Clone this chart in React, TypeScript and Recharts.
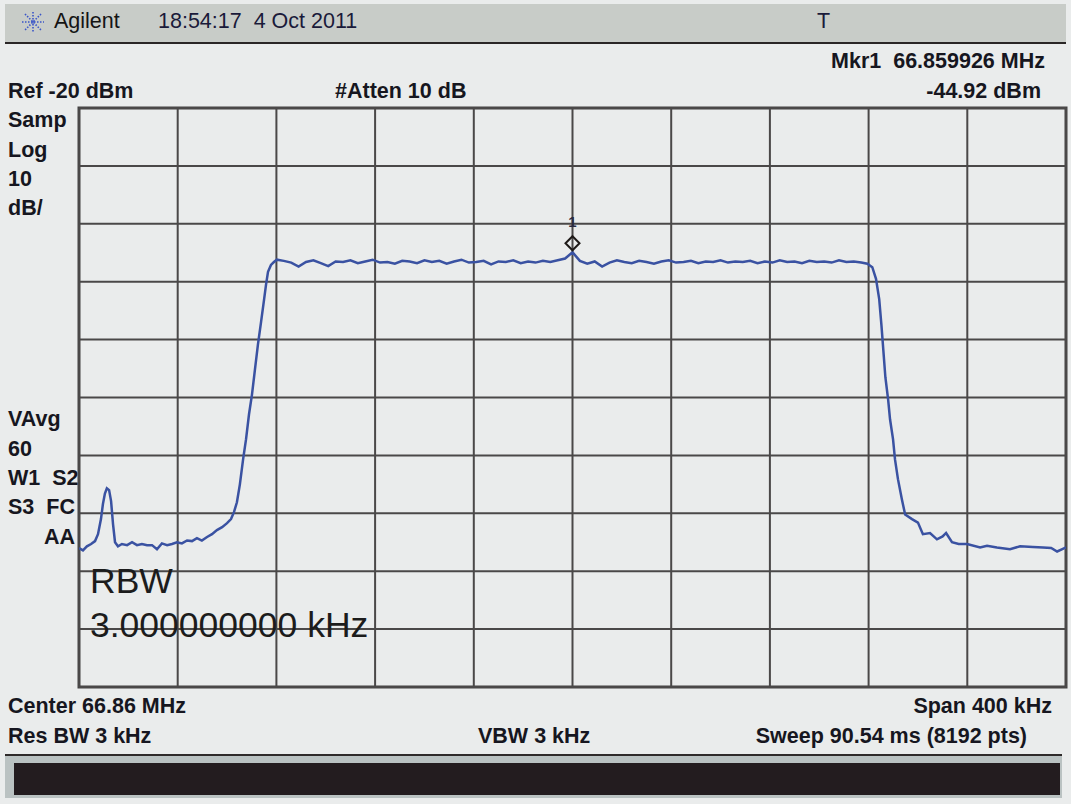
import React from "react";
import { ComposedChart, Line, Scatter, XAxis, YAxis, ReferenceLine, ReferenceArea } from "recharts";

// frequency offset from centre (kHz) and trace level (dBm)
const freqOffsetKHz = [
  -200, -198.4, -196.8, -195.1, -193.5, -192.3, -191.1, -190.3, -189.5, -188.7,
  -187.8, -187.0, -186.2, -185.4, -184.2, -182.6, -180.5, -178.5, -176.5, -174.5,
  -172.4, -170.4, -168.4, -166.4, -164.3, -162.3, -160.3, -158.3, -156.2, -154.2,
  -152.2, -150.2, -148.1, -146.1, -144.1, -142.0, -140.0, -138.4, -137.2, -136.0,
  -134.8, -133.5, -132.3, -131.1, -129.9, -128.7, -127.5, -126.2, -125.0, -124.2,
  -123.4, -122.2, -121.0, -119.8,
  -117, -114, -111, -108, -105, -102, -99, -96, -93, -90,
  -87, -84, -81, -78, -75, -72, -69, -66, -63, -60,
  -57, -54, -51, -48, -45, -42, -39, -36, -33, -30,
  -27, -24, -21, -18, -15, -12, -9, -6, -3, 0,
  3, 6, 9, 12, 15, 18, 21, 24, 27, 30,
  33, 36, 39, 42, 45, 48, 51, 54, 57, 60,
  63, 66, 69, 72, 75, 78, 81, 84, 87, 90,
  93, 96, 99, 102, 105, 108, 111, 114, 117,
  119.5, 121.5, 123, 124.3, 125.2, 126, 126.8, 127.9, 128.7, 129.9,
  130.7, 131.9, 133.5, 134.8, 137.6, 140, 142, 144.9, 147.7, 150,
  151.4, 153.8, 156.5, 159.9, 165.2, 168, 172, 177.3, 181.4, 186.6,
  190.7, 194, 196.4, 198.5, 200,
];

const levelDbm = [
  -96.0, -96.4, -95.7, -95.3, -94.8, -93.6, -91.0, -88.4, -86.6, -85.7,
  -86.0, -87.9, -91.9, -95.0, -95.7, -95.3, -95.5, -95.0, -95.5, -95.3,
  -95.5, -95.5, -96.2, -95.2, -95.5, -95.3, -95.0, -95.2, -94.7, -94.8,
  -94.3, -94.7, -94.1, -93.6, -92.9, -92.4, -91.7, -91.0, -89.8, -88.1,
  -85.0, -80.7, -77.2, -72.9, -69.5, -65.2, -60.9, -56.9, -53.1, -50.5,
  -48.3, -47.1, -46.6, -46.2,
  -46.4, -46.7, -47.4, -46.6, -46.3, -46.8, -47.3, -46.5, -46.6, -46.3,
  -46.8, -46.5, -46.2, -46.7, -46.6, -46.9, -46.4, -46.5, -46.8, -46.3,
  -46.6, -46.4, -46.9, -46.5, -46.2, -46.7, -46.6, -46.4, -47.0, -46.5,
  -46.6, -46.3, -46.8, -46.5, -46.7, -46.4, -46.6, -46.3, -46.0, -44.92,
  -46.4, -46.9, -46.5, -47.4, -46.7, -46.3, -46.6, -46.8, -46.4, -46.6,
  -46.9, -46.5, -46.3, -46.7, -46.6, -46.4, -46.8, -46.5, -46.6, -46.3,
  -46.7, -46.5, -46.6, -46.4, -46.8, -46.5, -46.7, -46.3, -46.6, -46.5,
  -46.8, -46.4, -46.6, -46.5, -46.7, -46.3, -46.6, -46.5, -46.7,
  -46.9, -47.5, -49.5, -53.0, -57.5, -62.0, -66.5, -70.3, -73.8, -77.2,
  -80.7, -84.1, -87.6, -90.2, -91.0, -91.6, -93.6, -93.4, -94.5, -94.0,
  -93.4, -95.0, -95.3, -95.3, -95.9, -95.6, -95.9, -96.2, -95.7, -95.8,
  -95.9, -96.0, -96.6, -96.2, -95.9,
];

const xTicks = [-200, -160, -120, -80, -40, 0, 40, 80, 120, 160, 200];
const yTicks = [-120, -110, -100, -90, -80, -70, -60, -50, -40, -30, -20];

const marker = [{ f: 0, level: -44.92 }];

const leftTopLabels = ["Samp", "Log", "10", "dB/"];
const leftBottomLabels = ["VAvg", "60", "W1  S2", "S3  FC"];

const traceData = freqOffsetKHz.map((f, i) => ({ f, level: levelDbm[i] }));

const FONT = "'Liberation Sans', Arial, sans-serif";
const GRID = "#4a4848";

const Txt = ({ x, y, right, size = 21.5, bold = true, color = "#161620", children }: any) => (
  <div
    style={{
      position: "absolute",
      top: y - size * 0.49,
      left: right === undefined ? x : undefined,
      right: right === undefined ? undefined : 1071 - right,
      fontSize: size,
      lineHeight: `${size}px`,
      fontWeight: bold ? 700 : 400,
      color,
      whiteSpace: "pre",
      fontFamily: FONT,
    }}
  >
    {children}
  </div>
);

const MarkerShape = (props: any) => {
  const { cx, cy } = props;
  const my = cy - 9;
  return (
    <g>
      <polygon
        points={`${cx},${my - 7} ${cx + 7},${my} ${cx},${my + 7} ${cx - 7},${my}`}
        fill="none"
        stroke="#1e1a18"
        strokeWidth={2}
      />
      <text x={cx} y={cy - 25} textAnchor="middle" fontSize={15} fontWeight={700} fontFamily={FONT} fill="#2a2a40">
        1
      </text>
    </g>
  );
};

const Logo = () => (
  <svg width={28} height={22} style={{ position: "absolute", left: 19, top: 11 }}>
    <g stroke="#3a55c8" strokeWidth={1.6} strokeDasharray="1.5 1.5">
      <line x1={14} y1={1} x2={14} y2={21} />
      <line x1={3} y1={11} x2={25} y2={11} />
      <line x1={6} y1={3} x2={22} y2={19} />
      <line x1={22} y1={3} x2={6} y2={19} />
    </g>
  </svg>
);

export default function App() {
  return (
    <div
      style={{
        position: "absolute",
        left: 0,
        top: 0,
        width: 1071,
        height: 804,
        background: "#eaecec",
        overflow: "hidden",
        fontFamily: FONT,
      }}
    >
      {/* header bar */}
      <div style={{ position: "absolute", left: 5, top: 4, width: 1061, height: 38, background: "#c8ccc8" }} />
      <div style={{ position: "absolute", left: 5, top: 42, width: 1061, height: 2, background: "#2a2626" }} />
      <Logo />
      <Txt x={54} y={22} size={21.5} bold={false} color="#141414">Agilent</Txt>
      <Txt x={158} y={22} size={21.5} bold={false} color="#1a1a3a">18:54:17  4 Oct 2011</Txt>
      <Txt x={817} y={22} size={21.5} bold={false} color="#1a1a3a">T</Txt>

      <Txt right={1045} y={62}>Mkr1  66.859926 MHz</Txt>
      <Txt x={8} y={92}>Ref -20 dBm</Txt>
      <Txt x={335} y={92}>#Atten 10 dB</Txt>
      <Txt right={1041} y={92}>-44.92 dBm</Txt>

      {leftTopLabels.map((t, i) => (
        <Txt key={t} x={8} y={121 + i * 29.3}>{t}</Txt>
      ))}
      {leftBottomLabels.map((t, i) => (
        <Txt key={t} x={8} y={420 + i * 29.3}>{t}</Txt>
      ))}
      <Txt x={44} y={538}>AA</Txt>

      <div style={{ position: "absolute", left: 0, top: 0 }}>
        <ComposedChart width={1071} height={804} margin={{ top: 108, right: 5, bottom: 117, left: 79 }}>
          <XAxis
            type="number"
            dataKey="f"
            domain={[-200, 200]}
            ticks={xTicks}
            allowDataOverflow
            tick={false}
            tickLine={false}
            axisLine={false}
            height={0}
          />
          <YAxis
            type="number"
            dataKey="level"
            domain={[-120, -20]}
            ticks={yTicks}
            allowDataOverflow
            tick={false}
            tickLine={false}
            axisLine={false}
            width={0}
          />
          {xTicks.map((t) => (
            <ReferenceLine key={`vx${t}`} x={t} stroke={GRID} strokeWidth={2} ifOverflow="visible" />
          ))}
          {yTicks.map((t) => (
            <ReferenceLine key={`hy${t}`} y={t} stroke={GRID} strokeWidth={2} ifOverflow="visible" />
          ))}
          <ReferenceArea
            x1={-200}
            x2={200}
            y1={-120}
            y2={-20}
            fill="none"
            fillOpacity={0}
            stroke="#444242"
            strokeWidth={3}
            ifOverflow="visible"
          />
          <Line
            data={traceData}
            dataKey="level"
            type="linear"
            stroke="#3a52a2"
            strokeWidth={2.5}
            dot={false}
            isAnimationActive={false}
          />
          <Scatter data={marker} dataKey="level" shape={MarkerShape} isAnimationActive={false} />
        </ComposedChart>
      </div>

      <Txt x={90} y={581} size={35.5} bold={false} color="#1c1c1c">RBW</Txt>
      <Txt x={90} y={625} size={35.5} bold={false} color="#1c1c1c">3.000000000 kHz</Txt>

      <Txt x={8} y={707}>Center 66.86 MHz</Txt>
      <Txt right={1052} y={707}>Span 400 kHz</Txt>
      <Txt x={8} y={737}>Res BW 3 kHz</Txt>
      <Txt x={478} y={737}>VBW 3 kHz</Txt>
      <Txt right={1027} y={737}>Sweep 90.54 ms (8192 pts)</Txt>

      {/* footer message bar */}
      <div style={{ position: "absolute", left: 5, top: 754, width: 1057, height: 2, background: "#2e2a2a" }} />
      <div style={{ position: "absolute", left: 5, top: 756, width: 1057, height: 42, background: "#bac2c2" }} />
      <div style={{ position: "absolute", left: 14, top: 763, width: 1046, height: 32, background: "#231c1f" }} />
    </div>
  );
}
